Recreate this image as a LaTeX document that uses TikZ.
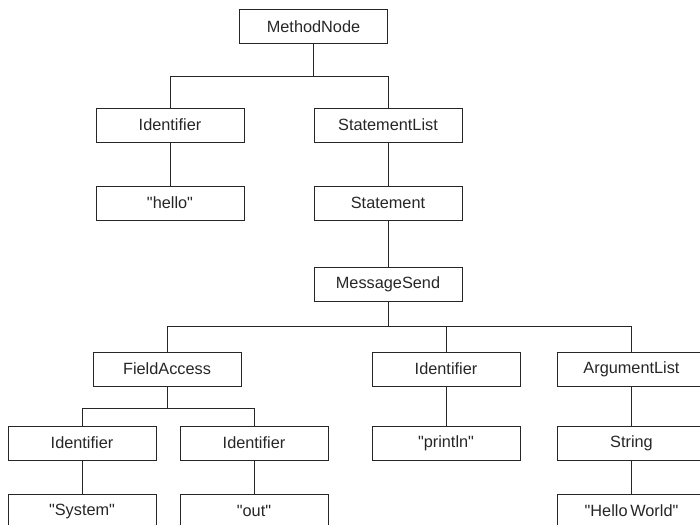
\documentclass[tikz,border=0pt]{standalone}
\usepackage{fontspec}
\newfontfamily\diafont{Liberation Sans}
\begin{document}
\begin{tikzpicture}[x=1pt,y=-1pt,
  box/.style={draw=black!85, text=black!85, line width=1pt, minimum width=148pt, minimum height=34pt, inner sep=0pt, font=\diafont\fontsize{16.3}{18}\selectfont},
  conn/.style={draw=black!85, line width=1pt}]
\useasboundingbox (0,0) rectangle (700,524);
\clip (0,0) rectangle (700,524);
\node[box] (mn) at (313.5,27) {MethodNode};
\node[box] (id1) at (170,125) {Identifier};
\node[box] (sl) at (388,125) {StatementList};
\node[box] (hello) at (170,203) {"hello"};
\node[box] (st) at (388,203) {Statement};
\node[box] (ms) at (388,284) {MessageSend};
\node[box] (fa) at (167,369) {FieldAccess};
\node[box] (id2) at (446,369) {Identifier};
\node[box] (al) at (631.5,369) {ArgumentList};
\node[box] (id3) at (82,443) {Identifier};
\node[box] (id4) at (254,443) {Identifier};
\node[box] (pr) at (446,443) {"println"};
\node[box] (str) at (631.5,443) {String};
\node[box] (sys) at (82,511) {"System"};
\node[box] (out) at (254,511) {"out"};
\node[box] (hw) at (631.5,511) {"Hello\,World"};
\draw[conn] (mn.south) -- ++(0,32) -| (id1.north);
\draw[conn] (mn.south) -- ++(0,32) -| (sl.north);
\draw[conn] (id1.south) -- (hello.north);
\draw[conn] (sl.south) -- (st.north);
\draw[conn] (st.south) -- (ms.north);
\draw[conn] (ms.south) -- ++(0,25) -| (fa.north);
\draw[conn] (ms.south) -- ++(0,25) -| (id2.north);
\draw[conn] (ms.south) -- ++(0,25) -| (al.north);
\draw[conn] (fa.south) -- ++(0,22) -| (id3.north);
\draw[conn] (fa.south) -- ++(0,22) -| (id4.north);
\draw[conn] (id3.south) -- (sys.north);
\draw[conn] (id4.south) -- (out.north);
\draw[conn] (id2.south) -- (pr.north);
\draw[conn] (al.south) -- (str.north);
\draw[conn] (str.south) -- (hw.north);
\end{tikzpicture}
\end{document}
